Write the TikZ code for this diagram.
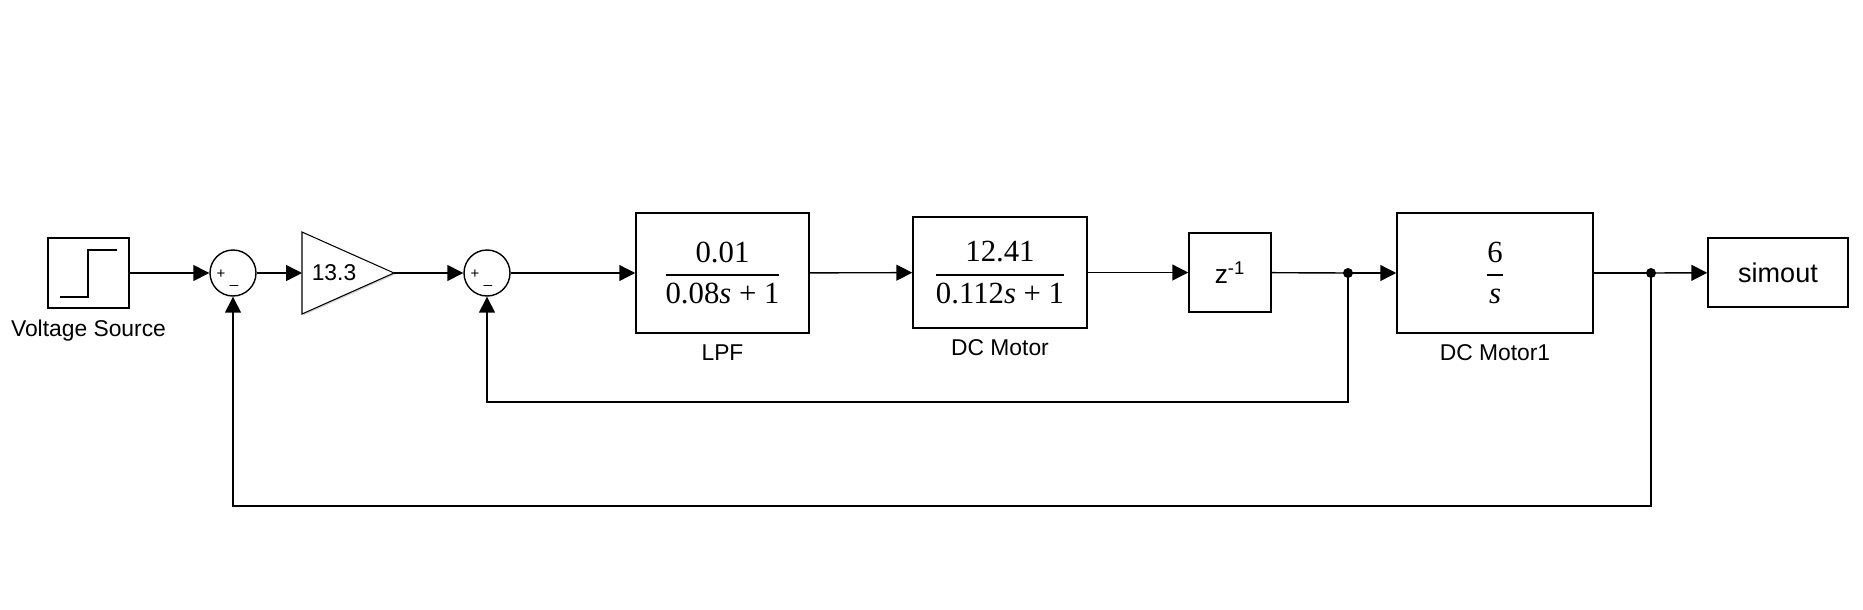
\documentclass[tikz,border=0pt]{standalone}
\usepackage{fontspec}
\setmainfont{Liberation Sans}
\newfontfamily\serif{Liberation Serif}
\usetikzlibrary{arrows.meta,shadows}

\newcommand{\tfblock}[2]{{\fontsize{17.5}{20}\selectfont$\displaystyle{\hbox{\serif #1}\above 1.1pt\hbox{\serif #2}}$}}

\tikzset{
	blk/.style={draw, line width=0.9pt, fill=white, inner sep=0pt,
		drop shadow={shadow xshift=0.8pt, shadow yshift=-0.8pt, opacity=0.35}},
	sumnode/.style={draw, circle, line width=0.8pt, fill=white, minimum size=0.92cm, inner sep=0pt},
	sgn/.style={inner sep=0pt, font=\fontsize{8.5}{9}\selectfont},
	sig/.style={line width=0.8pt, -{Triangle[length=9pt,width=9pt]}},
	wire/.style={line width=0.8pt},
	lbl/.style={font=\fontsize{13}{15}\selectfont, label distance=0.1cm},
	dot/.style={circle, fill=black, inner sep=0pt, minimum size=0.2cm}
}

\begin{document}
\begin{tikzpicture}[x=0.02cm, y=-0.02cm]
		\useasboundingbox (0,0) rectangle (1863,609);
		% blocks
		\node[blk, minimum width=1.62cm, minimum height=1.4cm,
			label={[lbl]below:Voltage Source}] (step) at (88.5,273) {};
		\draw[wire] (60,297) -- (88,297) -- (88,250) -- (117,250);
		\node[sumnode] (sumA) at (233,273) {};
		\node[sgn] at ([shift={(-12,1)}]sumA.center) {+};
		\node[sgn] at ([shift={(1,12)}]sumA.center) {\_};
		\draw[blk, line width=0.6pt] (302,232) -- (394,273) coordinate (gtip) -- (302,314) -- cycle;
		\coordinate (gin) at (302,273);
		\node[font=\fontsize{13}{15}\selectfont] (gain) at (334,273) {13.3};
		\node[sumnode] (sumB) at (487,273) {};
		\node[sgn] at ([shift={(-12,1)}]sumB.center) {+};
		\node[sgn] at ([shift={(1,12)}]sumB.center) {\_};
		\node[blk, minimum width=3.46cm, minimum height=2.4cm,
			label={[lbl]below:LPF}] (lpf) at (722.5,273) {\tfblock{0.01}{0.08\textit{s} + 1}};
		\node[blk, minimum width=3.48cm, minimum height=2.22cm,
			label={[lbl]below:DC Motor}] (motor) at (1000,272.5) {\tfblock{12.41}{0.112\textit{s} + 1}};
		\node[blk, minimum width=1.64cm, minimum height=1.58cm,
			font=\fontsize{15}{17}\selectfont] (delay) at (1230,272.5) {z\textsuperscript{-1}};
		\node[blk, minimum width=3.92cm, minimum height=2.4cm,
			label={[lbl]below:DC Motor1}] (motorb) at (1495,273) {\tfblock{6}{\textit{s}}};
		\node[blk, minimum width=2.8cm, minimum height=1.38cm,
			font=\fontsize{15.4}{18}\selectfont] (simout) at (1778,272.5) {simout};
		% branch points
		\node[dot] (brA) at (1348,273) {};
		\node[dot] (brB) at (1651,273) {};
		% forward path
		\draw[sig] (step) -- (sumA);
		\draw[sig] (sumA) -- (gin);
		\draw[sig] (gtip) -- (sumB);
		\draw[sig] (sumB) -- (lpf);
		\draw[sig] (lpf) -- (motor);
		\draw[sig] (motor) -- (delay);
		\draw[wire] (delay) -- (brA.center);
		\draw[sig] (brA.center) -- (motorb);
		\draw[wire] (motorb) -- (brB.center);
		\draw[sig] (brB.center) -- (simout);
		% feedback loops
		\draw[sig] (brA.center) -- (1348,402) -| (sumB.south);
		\draw[sig] (brB.center) -- (1651,506) -| (sumA.south);
	\end{tikzpicture}
\end{document}
